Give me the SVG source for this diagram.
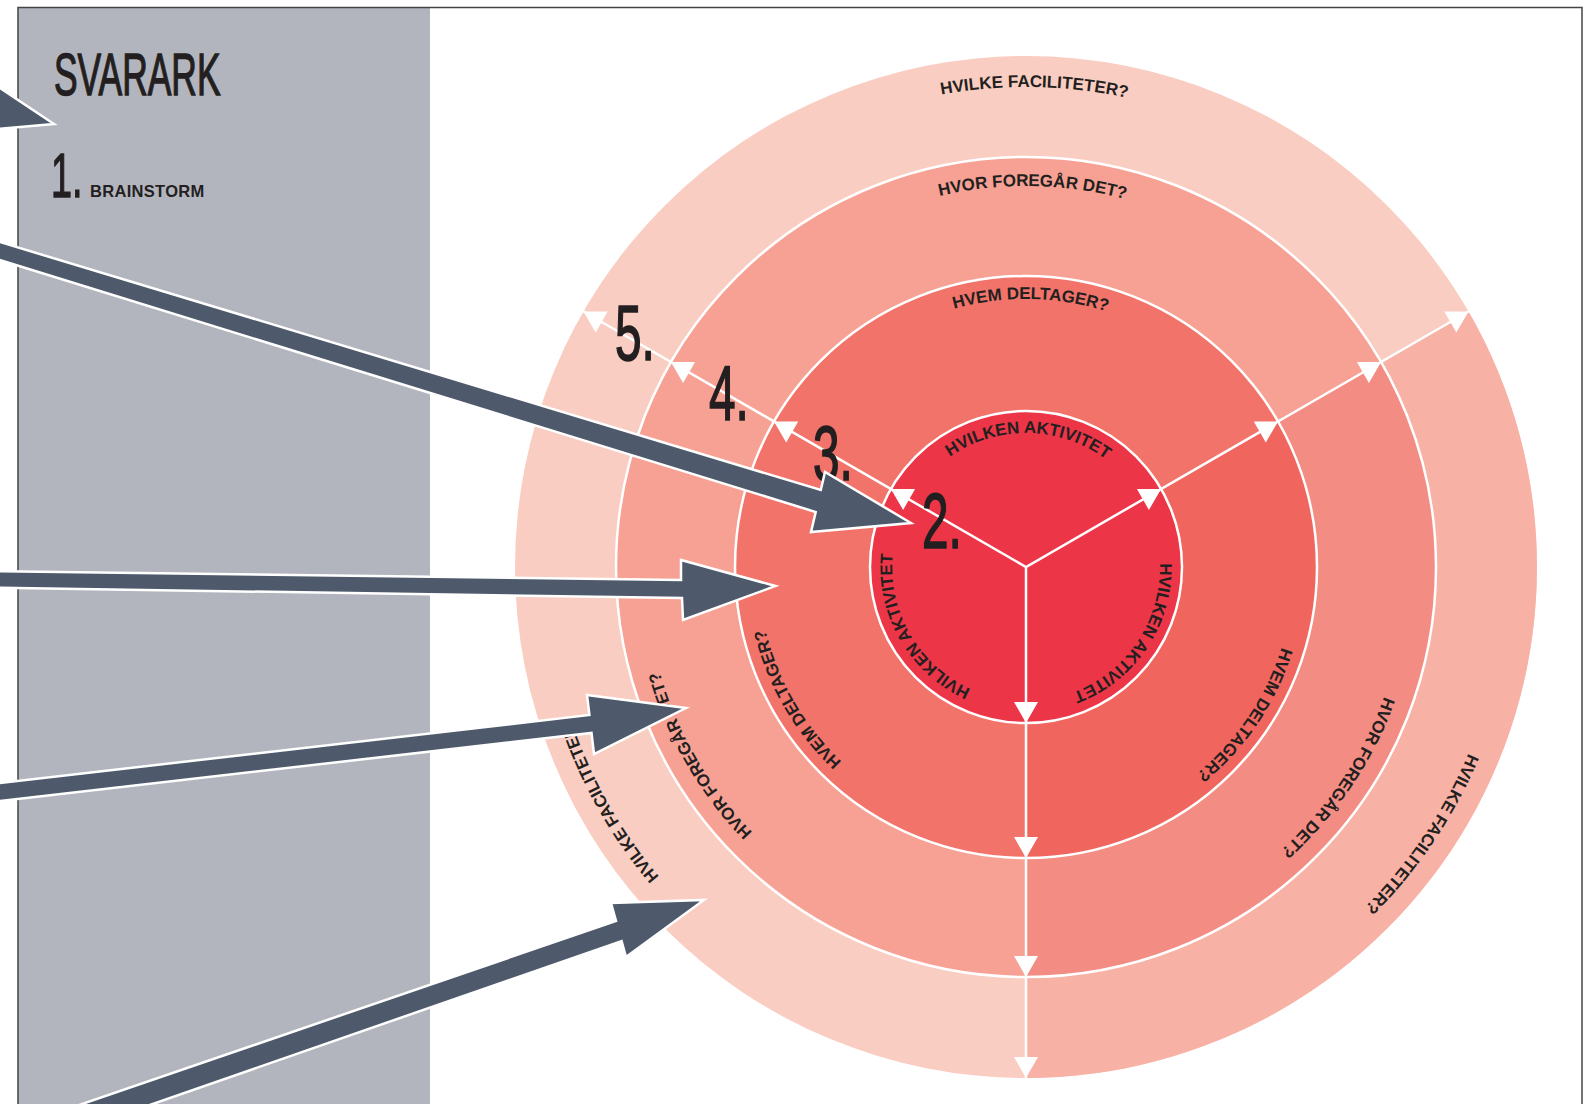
<svg xmlns="http://www.w3.org/2000/svg" xmlns:xlink="http://www.w3.org/1999/xlink" width="1589" height="1104" viewBox="0 0 1589 1104">
<style>
.lbl{font-family:"Liberation Sans",Arial,sans-serif;font-weight:bold;font-size:17px;fill:#231F20;}
.num{font-family:"Liberation Sans",Arial,sans-serif;font-size:77px;fill:#231F20;stroke:#231F20;stroke-width:1.6;}
.cond{font-family:"Liberation Sans",Arial,sans-serif;fill:#231F20;stroke:#231F20;stroke-width:1.4;}
.ray{stroke:#fff;stroke-width:2.5;fill:none;}
.ringline{stroke:#fff;stroke-width:2.5;fill:none;}
.darrow{fill:#4E5A6B;stroke:#fff;stroke-width:2.5;stroke-linejoin:miter;}
</style>
<defs>
<path id="ah" d="M0,0 L-21,-12 L-21,12 Z" fill="#fff"/>
<path id="p1" d="M1026,701 A134,134 0 1 1 1026,433 A134,134 0 1 1 1026,701"/>
<path id="p2" d="M1026,835 A268,268 0 1 1 1026,299 A268,268 0 1 1 1026,835"/>
<path id="p3" d="M1026,948 A381,381 0 1 1 1026,186 A381,381 0 1 1 1026,948"/>
<path id="p4" d="M1026,1047 A480,480 0 1 1 1026,87 A480,480 0 1 1 1026,1047"/>
</defs>
<rect width="1589" height="1104" fill="#fff"/>
<g id="panel">
<rect x="18" y="8" width="412" height="1096" fill="#B3B5BE"/>
<text class="cond" transform="translate(54,95) scale(0.59,1)" style="font-size:60px">SVARARK</text>
<text class="cond" transform="translate(51,197) scale(0.6,1)" style="font-size:63px">1.</text>
<text x="90" y="197" style="font-family:'Liberation Sans',Arial,sans-serif;font-weight:bold;font-size:16.5px;letter-spacing:0.3px;fill:#231F20">BRAINSTORM</text>
</g>
<g id="frame" stroke="#444" stroke-width="1.5" fill="none">
<path d="M18,1104 L18,7.5 L1582,7.5 L1582,1104"/>
</g>
<g id="ring-4">
<circle cx="1026" cy="567" r="511" fill="#FACDC2"/>
<path d="M1026,567 L1468.5,311.5 A511,511 0 0 1 1026,1078 Z" fill="#F8B1A5"/>
</g>
<g id="ring-3">
<circle cx="1026" cy="567" r="410" fill="#F7A194"/>
<path d="M1026,567 L1381.1,362 A410,410 0 0 1 1026,977 Z" fill="#F38D83"/>
</g>
<g id="ring-2">
<circle cx="1026" cy="567" r="291" fill="#F27369"/>
<path d="M1026,567 L1278,421.5 A291,291 0 0 1 1026,858 Z" fill="#F0665F"/>
</g>
<g id="ring-1">
<circle cx="1026" cy="567" r="156" fill="#EC3547"/>
</g>
<g id="ring-lines" class="ringline">
<circle cx="1026" cy="567" r="156"/>
<circle cx="1026" cy="567" r="291"/>
<circle cx="1026" cy="567" r="410"/>
</g>
<g id="labels" class="lbl">
<g transform="rotate(1 1026 567)">
<text><textPath href="#p1" startOffset="50%" text-anchor="middle">HVILKEN AKTIVITET</textPath></text>
<text><textPath href="#p2" startOffset="50%" text-anchor="middle">HVEM DELTAGER?</textPath></text>
<text><textPath href="#p3" startOffset="50%" text-anchor="middle">HVOR FOREGÅR DET?</textPath></text>
<text><textPath href="#p4" startOffset="50%" text-anchor="middle">HVILKE FACILITETER?</textPath></text>
</g>
<g transform="rotate(124 1026 567)">
<text><textPath href="#p1" startOffset="50%" text-anchor="middle">HVILKEN AKTIVITET</textPath></text>
<text><textPath href="#p2" startOffset="50%" text-anchor="middle">HVEM DELTAGER?</textPath></text>
<text><textPath href="#p3" startOffset="50%" text-anchor="middle">HVOR FOREGÅR DET?</textPath></text>
<text><textPath href="#p4" startOffset="50%" text-anchor="middle">HVILKE FACILITETER?</textPath></text>
</g>
<g transform="rotate(240 1026 567)">
<text><textPath href="#p1" startOffset="50%" text-anchor="middle">HVILKEN AKTIVITET</textPath></text>
<text><textPath href="#p2" startOffset="50%" text-anchor="middle">HVEM DELTAGER?</textPath></text>
<text><textPath href="#p3" startOffset="50%" text-anchor="middle">HVOR FOREGÅR DET?</textPath></text>
</g>
<g transform="rotate(241 1026 567)">
<text><textPath href="#p4" startOffset="50%" text-anchor="middle">HVILKE FACILITETER?</textPath></text>
</g>
</g>
<g id="connectors">
<g id="rays">
<path class="ray" d="M583.5,311.5 L1026,567 L1468.5,311.5 M1026,567 L1026,1078"/>
<use href="#ah" transform="translate(890.9,489) rotate(210)"/>
<use href="#ah" transform="translate(774,421.5) rotate(210)"/>
<use href="#ah" transform="translate(670.9,362) rotate(210)"/>
<use href="#ah" transform="translate(583.5,311.5) rotate(210)"/>
<use href="#ah" transform="translate(1161.1,489) rotate(-30)"/>
<use href="#ah" transform="translate(1278,421.5) rotate(-30)"/>
<use href="#ah" transform="translate(1381.1,362) rotate(-30)"/>
<use href="#ah" transform="translate(1468.5,311.5) rotate(-30)"/>
<use href="#ah" transform="translate(1026,723) rotate(90)"/>
<use href="#ah" transform="translate(1026,858) rotate(90)"/>
<use href="#ah" transform="translate(1026,977) rotate(90)"/>
<use href="#ah" transform="translate(1026,1078) rotate(90)"/>
</g>
</g>
<g id="numbers">
<text class="num" transform="translate(615,360) scale(0.62,1)">5.</text>
<text class="num" transform="translate(709,420) scale(0.62,1)">4.</text>
<text class="num" transform="translate(813,480) scale(0.62,1)">3.</text>
<text class="num" transform="translate(922,548) scale(0.62,1)">2.</text>
</g>
<g id="pointer-arrows">
<polygon class="darrow" points="-60,50 -30,68 54,124 -46,133 -60,134"/>
<polygon class="darrow" points="-20,236 820.8,490 825,472 911,523 811,532 815.7,512 -20,254"/>
<polygon class="darrow" points="-20,571.1 681,580 681,560 775.5,586 683,620 682,598 -20,587.5"/>
<polygon class="darrow" points="-20,785.3 589.4,715 587,695 686,708 594,754 591.5,733 -20,803.3"/>
<polygon class="darrow" points="-20,1139 616,921 611,903 704,900 626,957 621.6,941 -20,1164"/>
</g>
</svg>
